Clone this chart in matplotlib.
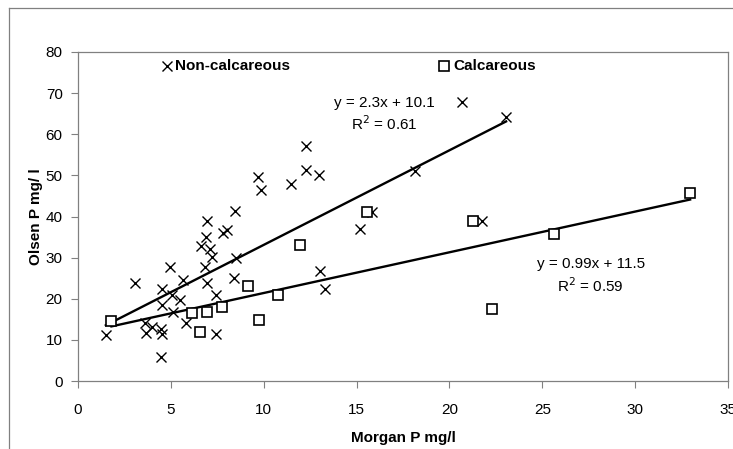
import matplotlib
matplotlib.use("Agg")
import matplotlib.pyplot as plt
import numpy as np
from matplotlib.lines import Line2D

plt.rcParams["font.family"] = ["Liberation Sans", "DejaVu Sans"]

# Non-calcareous soils (Morgan P, Olsen P)
noncalc_x = [1.5, 3.07, 3.63, 3.66, 4.0, 4.45, 4.55, 4.45, 4.55, 4.55, 4.95,
             5.05, 5.1, 5.47, 5.64, 5.83, 6.62, 6.9, 6.95, 7.1, 7.2, 6.85,
             6.95, 7.43, 7.43, 7.8, 8.0, 8.45, 8.5, 8.42, 9.67, 9.85, 11.47,
             12.28, 12.28, 13.0, 13.05, 13.3, 15.17, 15.85, 18.15, 20.66,
             21.74, 23.05]
noncalc_y = [11.3, 23.8, 14.0, 11.6, 13.2, 12.6, 11.4, 5.9, 22.3, 18.5, 27.8,
             20.9, 16.7, 19.7, 24.6, 14.0, 32.9, 35.0, 39.0, 32.1, 30.2, 27.8,
             23.9, 20.9, 11.4, 36.0, 36.7, 41.4, 29.9, 25.0, 49.7, 46.5, 47.9,
             57.1, 51.3, 50.1, 26.8, 22.3, 36.9, 41.2, 51.1, 67.9,
             39.0, 64.3]

# Calcareous soils
calc_x = [1.8, 6.16, 6.55, 6.95, 7.75, 9.17, 9.77, 10.75, 11.95, 15.57,
          21.25, 22.28, 25.63, 32.96]
calc_y = [14.5, 16.6, 12.0, 16.9, 18.1, 23.2, 14.8, 20.9, 33.1, 41.2,
          39.0, 17.4, 35.7, 45.6]

# fitted lines as printed on the chart
noncalc_fit = (2.3, 10.1)
calc_fit = (0.99, 11.5)

fig = plt.figure(figsize=(7.33, 4.49), dpi=100)
ax = fig.add_axes([0.1064, 0.1514, 0.8868, 0.7328])

ax.plot(noncalc_x, noncalc_y, linestyle="none", marker="x", markersize=7.8,
        markeredgewidth=1.0, color="black", zorder=3)
ax.plot(calc_x, calc_y, linestyle="none", marker="s", markersize=7.5,
        markeredgewidth=1.2, markerfacecolor="white", markeredgecolor="black",
        zorder=3)

for xs, (m, b) in ((noncalc_x, noncalc_fit), (calc_x, calc_fit)):
    xx = np.array([min(xs), max(xs)])
    ax.plot(xx, m * xx + b, color="black", linewidth=1.7, zorder=2)

ax.text(16.5, 67.6, "y = 2.3x + 10.1", ha="center", va="center", fontsize=11)
ax.text(16.5, 62.5, "R$^2$ = 0.61", ha="center", va="center", fontsize=11)
ax.text(27.6, 28.4, "y = 0.99x + 11.5", ha="center", va="center", fontsize=11)
ax.text(27.6, 23.1, "R$^2$ = 0.59", ha="center", va="center", fontsize=11)

# in-plot legend entries
ax.plot([4.8], [76.5], marker="x", markersize=7.8, markeredgewidth=1.0,
        color="black", linestyle="none", clip_on=False)
ax.text(5.2, 76.5, "Non-calcareous", fontsize=11, fontweight="bold",
        va="center", ha="left")
ax.plot([19.7], [76.5], marker="s", markersize=7.5, markeredgewidth=1.2,
        markerfacecolor="white", markeredgecolor="black", linestyle="none",
        clip_on=False)
ax.text(20.2, 76.5, "Calcareous", fontsize=11, fontweight="bold",
        va="center", ha="left")

ax.set_xlim(0, 35)
ax.set_ylim(0, 80)
ax.set_xticks(range(0, 36, 5))
ax.set_yticks(range(0, 81, 10))
ax.tick_params(direction="out", length=5, width=0.8, color="#808080",
               labelsize=11)
ax.tick_params(axis="x", pad=11)
ax.tick_params(axis="y", pad=6)
for s in ax.spines.values():
    s.set_color("#808080")
    s.set_linewidth(0.9)

ax.set_xlabel("Morgan P mg/l", fontsize=11, fontweight="bold", labelpad=10)
ax.set_ylabel("Olsen P mg/ l", fontsize=11, fontweight="bold", labelpad=2)

# outer chart border (left and top visible)
fig.add_artist(Line2D([9 / 733, 9 / 733], [0, 1 - 8 / 449],
                      color="#808080", linewidth=0.9))
fig.add_artist(Line2D([9 / 733, 1], [1 - 8 / 449, 1 - 8 / 449],
                      color="#808080", linewidth=0.9))

fig.savefig("out.png", dpi=100)
